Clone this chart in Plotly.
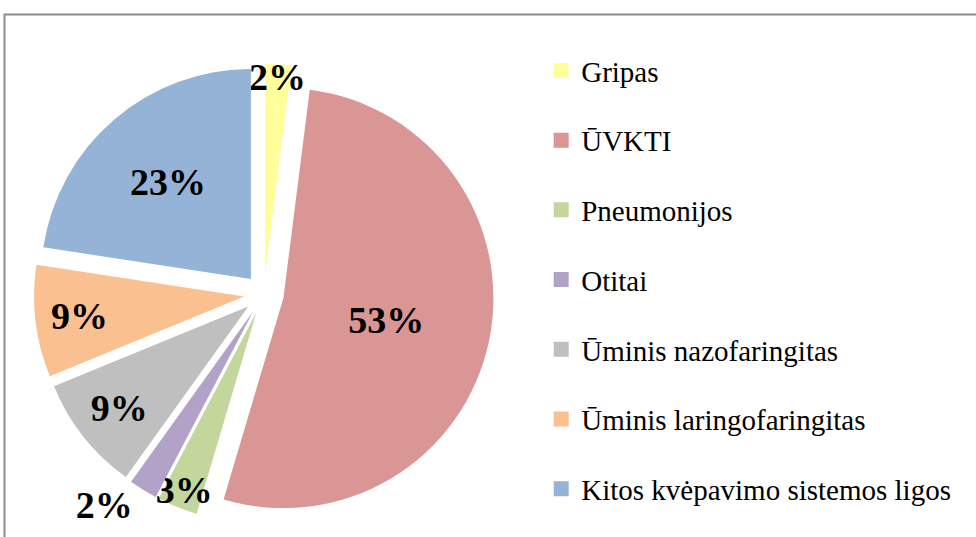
import plotly.graph_objects as go

labels = ["Gripas", "ŪVKTI", "Pneumonijos", "Otitai",
          "Ūminis nazofaringitas", "Ūminis laringofaringitas",
          "Kitos kvėpavimo sistemos ligos"]
values = [2.0, 52.6, 3.1, 2.2, 8.9, 8.6, 22.6]
colors = ["#FFFF99", "#D99694", "#C3D69B", "#B3A2C7", "#BFBFBF", "#FAC090", "#95B3D7"]
positions = ["inside", "inside", "inside", "outside", "inside", "inside", "inside"]

FONT = "Liberation Serif"

fig = go.Figure()
fig.add_trace(go.Pie(
    labels=labels,
    values=values,
    sort=False,
    direction="clockwise",
    rotation=0,
    pull=[0.095] * len(values),
    marker=dict(colors=colors, line=dict(width=0)),
    texttemplate="%{percent:.0%}",
    textposition=positions,
    insidetextorientation="horizontal",
    textfont=dict(family=FONT, size=38, color="black", weight="bold"),
    domain=dict(x=[0.0348, 0.506], y=[0.0242, 0.8808]),
    showlegend=False,
    hoverinfo="label+percent",
))

# legend entries (one per category, so the gap between them can be set)
for lab, col in zip(labels, colors):
    fig.add_trace(go.Scatter(
        x=[None], y=[None], mode="markers", name=lab, legendgroup=lab,
        marker=dict(symbol="square", size=15, color=col),
        showlegend=True, hoverinfo="skip",
    ))

fig.update_layout(
    width=976, height=537,
    margin=dict(l=0, r=0, t=0, b=0, autoexpand=False),
    paper_bgcolor="white",
    plot_bgcolor="white",
    xaxis=dict(visible=False),
    yaxis=dict(visible=False),
    uniformtext=dict(minsize=38, mode="show"),
    legend=dict(
        x=0.5545, y=0.916, xanchor="left", yanchor="top",
        font=dict(family=FONT, size=29, color="black"),
        traceorder="grouped",
        tracegroupgap=29,
        bgcolor="rgba(0,0,0,0)",
    ),
    shapes=[dict(type="rect", xref="paper", yref="paper",
                 x0=4.5 / 976, x1=1.02, y0=-0.02, y1=1 - 14.5 / 537,
                 line=dict(color="#8c8c8c", width=2), fillcolor="rgba(0,0,0,0)",
                 layer="below")],
)

fig.write_html("out.html", config={"displayModeBar": False},
               post_script="document.body.style.margin='0';")
